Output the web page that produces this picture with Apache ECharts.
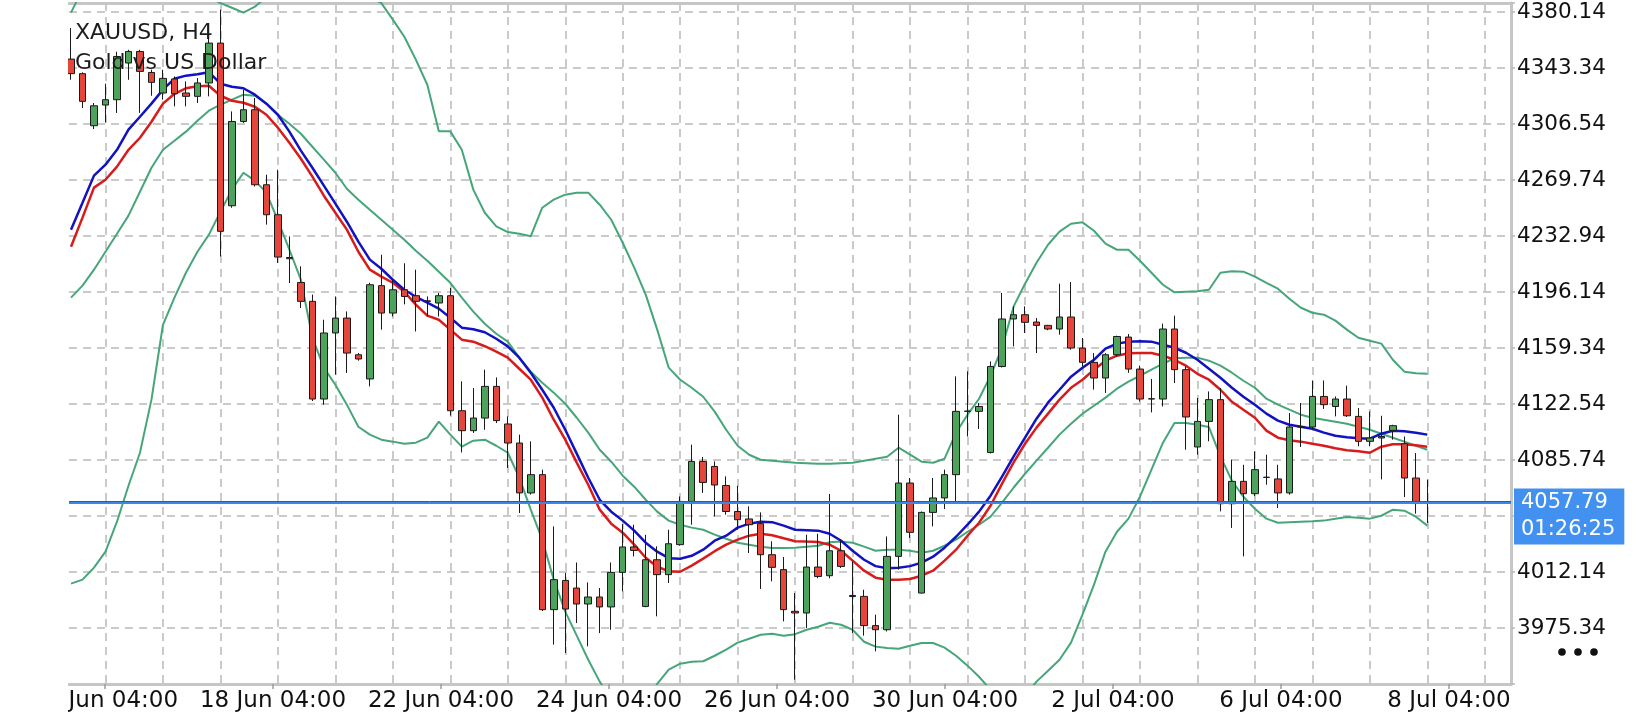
<!DOCTYPE html>
<html>
<head>
<meta charset="utf-8">
<title>XAUUSD, H4</title>
<script src="https://cdn.jsdelivr.net/npm/echarts@6/dist/echarts.min.js"></script>
<style>
    html, body { margin: 0; padding: 0; background: #fff; }
    #chart { width: 1640px; height: 720px; }
</style>
</head>
<body>
<div id="chart"></div>
<script>
// symbol header and live price box
var symbolName = 'XAUUSD, H4';
var symbolDesc = 'Gold vs US Dollar';
var lastPrice = 4057.79;
var askPrice = 4058.6;
var barTimeLeft = '01:26:25';

// time axis labels (one every ~14.6 bars, as the terminal places them)
var xLabels = ['16 Jun 04:00', '18 Jun 04:00', '22 Jun 04:00', '24 Jun 04:00', '26 Jun 04:00',
    '30 Jun 04:00', '2 Jul 04:00', '6 Jul 04:00', '8 Jul 04:00'];

// price scale
var yMin = 3938.54;
var yMax = 4386.04;
var yStep = 36.8;
var yLabels = ['3975.34', '4012.14', '4085.74', '4122.54', '4159.34', '4196.14',
    '4232.94', '4269.74', '4306.54', '4343.34', '4380.14'];

// H4 bars, oldest first
var candleOpen = [
    4349.2, 4339.6, 4305.4, 4319.0, 4322.5, 4346.6, 4354.2, 4340.4, 4326.9, 4336.1,
    4326.9, 4324.7, 4333.5, 4359.7, 4252.8, 4308.2, 4315.9, 4266.6, 4246.9, 4218.8,
    4202.4, 4190.0, 4125.8, 4169.2, 4179.0, 4154.9, 4139.0, 4200.3, 4182.3, 4197.6,
    4193.7, 4190.3, 4188.9, 4193.7, 4118.1, 4105.0, 4113.3, 4134.1, 4109.4, 4096.9,
    4064.1, 4076.1, 3987.4, 4006.6, 4001.6, 3991.1, 3995.7, 3989.2, 4011.9, 4028.6,
    3989.5, 4020.2, 4010.4, 4030.1, 4058.5, 4084.8, 4081.5, 4069.0, 4051.9, 4047.0,
    4043.9, 4023.5, 4013.7, 3986.3, 3985.2, 4015.4, 4009.7, 4026.1, 3996.7, 3996.1,
    3976.9, 3974.2, 4022.4, 4070.6, 3998.3, 4051.3, 4060.8, 4076.1, 4117.9, 4117.7,
    4090.7, 4147.2, 4178.4, 4181.2, 4176.4, 4174.2, 4171.8, 4179.7, 4159.3, 4149.9,
    4139.6, 4154.9, 4166.5, 4145.5, 4126.0, 4125.8, 4171.8, 4145.1, 4094.3, 4111.1,
    4125.4, 4057.0, 4071.7, 4063.6, 4074.4, 4073.3, 4064.1, 4107.4, 4107.4, 4127.5,
    4120.9, 4125.8, 4114.4, 4098.0, 4100.2, 4105.2, 4096.4, 4073.9, 4058.4
];
var candleClose = [
    4339.6, 4321.4, 4318.5, 4322.5, 4350.9, 4354.2, 4341.1, 4333.9, 4336.5, 4326.4,
    4324.7, 4333.5, 4359.7, 4236.0, 4308.2, 4315.9, 4266.6, 4246.9, 4219.1, 4218.0,
    4190.0, 4125.8, 4169.2, 4179.0, 4156.0, 4152.1, 4200.9, 4182.3, 4197.6, 4193.2,
    4190.0, 4190.0, 4193.7, 4118.1, 4105.0, 4113.3, 4134.1, 4111.6, 4096.9, 4064.1,
    4076.1, 3987.4, 4007.1, 3987.8, 3991.1, 3995.7, 3989.2, 4011.9, 4028.6, 4026.3,
    4020.2, 4010.4, 4030.7, 4058.5, 4084.8, 4071.0, 4069.3, 4051.9, 4046.5, 4043.2,
    4023.5, 4015.2, 3987.4, 3985.2, 4015.4, 4009.2, 4026.1, 4015.8, 3996.0, 3976.9,
    3974.2, 4022.4, 4070.6, 4038.2, 4051.3, 4060.8, 4076.1, 4117.7, 4117.7, 4120.9,
    4147.2, 4178.4, 4181.2, 4176.2, 4174.2, 4171.8, 4179.7, 4159.3, 4149.9, 4139.6,
    4154.9, 4166.9, 4145.5, 4125.8, 4125.8, 4171.8, 4145.1, 4114.0, 4111.1, 4125.4,
    4057.0, 4071.7, 4063.6, 4079.4, 4074.3, 4064.1, 4107.4, 4107.8, 4127.5, 4122.1,
    4125.8, 4114.8, 4098.0, 4100.2, 4101.2, 4108.3, 4073.9, 4058.5, 4057.79
];
var candleLow = [
    4335.6, 4317.0, 4303.2, 4307.6, 4313.8, 4335.6, 4313.8, 4325.1, 4322.5, 4318.1,
    4318.1, 4320.3, 4324.7, 4219.5, 4251.5, 4307.2, 4265.5, 4240.4, 4215.2, 4202.0,
    4185.6, 4124.5, 4122.1, 4141.8, 4142.9, 4151.0, 4134.1, 4171.4, 4180.1, 4188.0,
    4170.2, 4180.1, 4180.0, 4114.9, 4090.7, 4103.5, 4105.6, 4110.0, 4080.5, 4050.9,
    4063.0, 3986.5, 3964.4, 3958.9, 3978.6, 3963.3, 3972.0, 3974.2, 3999.4, 4022.4,
    3989.0, 3983.0, 4004.9, 4029.4, 4043.2, 4064.1, 4048.7, 4049.8, 4039.9, 4024.6,
    4001.0, 4006.0, 3979.7, 3941.4, 3975.3, 4008.0, 4008.0, 4014.8, 3972.0, 3970.3,
    3960.0, 3973.1, 4013.7, 4034.5, 3998.0, 4042.1, 4053.5, 4058.5, 4101.2, 4106.1,
    4090.0, 4146.5, 4160.4, 4169.2, 4156.0, 4171.0, 4168.1, 4158.2, 4147.2, 4132.0,
    4129.8, 4153.8, 4143.0, 4124.2, 4117.0, 4120.9, 4136.3, 4092.5, 4089.2, 4098.0,
    4052.0, 4041.1, 4022.4, 4062.0, 4069.5, 4054.2, 4063.0, 4094.3, 4106.0, 4119.3,
    4114.4, 4114.0, 4094.7, 4094.7, 4073.0, 4099.1, 4061.4, 4050.5, 4044.3
];
var candleHigh = [
    4369.6, 4340.5, 4320.3, 4333.0, 4354.0, 4355.3, 4355.3, 4342.2, 4342.2, 4337.8,
    4334.5, 4336.7, 4366.3, 4381.6, 4314.8, 4329.1, 4323.6, 4273.2, 4276.5, 4232.7,
    4213.0, 4194.4, 4177.9, 4193.2, 4183.4, 4156.0, 4202.2, 4220.6, 4204.2, 4215.0,
    4210.8, 4193.2, 4195.5, 4198.8, 4137.4, 4133.0, 4145.1, 4140.0, 4114.4, 4102.4,
    4098.0, 4079.4, 4042.1, 4011.5, 4018.4, 4005.3, 4001.6, 4018.4, 4043.7, 4043.2,
    4036.6, 4029.0, 4039.9, 4061.8, 4095.8, 4087.7, 4084.8, 4075.0, 4068.8, 4055.3,
    4051.3, 4032.3, 4022.0, 3998.3, 4036.6, 4037.3, 4063.4, 4033.8, 4019.1, 4000.5,
    3984.1, 4035.5, 4115.5, 4073.9, 4051.9, 4073.9, 4079.4, 4140.7, 4144.0, 4123.2,
    4150.5, 4195.5, 4186.7, 4186.7, 4179.0, 4174.5, 4201.6, 4202.7, 4165.9, 4156.0,
    4156.0, 4167.4, 4168.5, 4147.7, 4139.0, 4175.3, 4180.6, 4147.2, 4126.5, 4130.8,
    4133.0, 4085.9, 4082.6, 4091.4, 4089.2, 4082.6, 4116.6, 4123.2, 4138.0, 4138.0,
    4127.5, 4134.6, 4119.9, 4117.7, 4114.8, 4108.9, 4101.2, 4090.3, 4072.8
];

// moving averages (blue / red)
var maBlue = [
    4237.1, 4254.8, 4272.6, 4279.8, 4289.6, 4302.8, 4311.3, 4319.9, 4329.1, 4336.3,
    4338.3, 4339.2, 4340.6, 4333.0, 4331.0, 4330.0, 4325.8, 4319.9, 4312.6, 4301.5,
    4289.0, 4277.8, 4266.0, 4254.2, 4242.3, 4229.2, 4217.4, 4211.4, 4204.2, 4197.6,
    4193.0, 4189.1, 4185.2, 4179.2, 4172.7, 4171.7, 4169.7, 4165.4, 4160.4, 4153.0,
    4143.1, 4131.9, 4120.1, 4105.6, 4089.9, 4074.1, 4059.6, 4051.8, 4045.9, 4039.3,
    4031.4, 4025.5, 4021.2, 4020.9, 4022.8, 4026.8, 4032.7, 4036.0, 4041.3, 4043.9,
    4045.2, 4044.9, 4042.6, 4039.9, 4039.6, 4039.3, 4037.3, 4032.7, 4026.1, 4020.2,
    4016.0, 4014.6, 4015.0, 4016.0, 4018.3, 4022.2, 4028.1, 4035.3, 4043.2, 4051.8,
    4062.3, 4074.8, 4087.9, 4100.4, 4112.9, 4123.4, 4131.9, 4140.5, 4146.4, 4151.6,
    4158.9, 4162.2, 4163.5, 4163.8, 4163.5, 4161.5, 4159.5, 4156.2, 4151.6, 4145.7,
    4139.8, 4133.2, 4127.3, 4122.1, 4116.2, 4111.6, 4108.9, 4107.6, 4106.3, 4103.7,
    4101.7, 4100.7, 4100.1, 4099.7, 4103.0, 4105.0, 4104.7, 4103.7, 4102.4
];
var maRed = [
    4225.9, 4245.0, 4264.7, 4269.9, 4278.5, 4289.6, 4297.5, 4308.0, 4319.9, 4326.4,
    4330.0, 4331.4, 4331.7, 4325.1, 4321.8, 4320.5, 4317.9, 4312.6, 4304.1, 4294.2,
    4283.7, 4271.9, 4259.4, 4248.2, 4237.1, 4222.6, 4210.8, 4206.2, 4202.2, 4196.3,
    4187.8, 4180.6, 4177.9, 4171.4, 4164.8, 4163.5, 4160.5, 4156.9, 4153.0, 4145.7,
    4138.5, 4126.7, 4112.2, 4099.1, 4084.0, 4069.5, 4053.1, 4043.9, 4038.0, 4030.1,
    4021.5, 4015.6, 4012.7, 4012.3, 4016.3, 4020.9, 4025.8, 4030.1, 4033.4, 4036.0,
    4037.3, 4036.3, 4034.3, 4032.4, 4032.1, 4031.9, 4030.1, 4026.1, 4019.6, 4013.0,
    4008.4, 4007.1, 4007.1, 4007.5, 4009.7, 4013.0, 4019.6, 4026.8, 4036.0, 4044.5,
    4055.7, 4070.2, 4084.0, 4096.4, 4107.0, 4116.2, 4125.4, 4133.2, 4138.5, 4145.1,
    4151.0, 4154.3, 4155.9, 4156.0, 4156.0, 4154.3, 4151.6, 4147.7, 4142.4, 4138.5,
    4131.9, 4124.0, 4118.8, 4113.5, 4105.0, 4100.4, 4098.7, 4097.8, 4096.4, 4095.1,
    4093.5, 4092.2, 4091.5, 4090.5, 4094.5, 4096.1, 4096.1, 4095.5, 4094.5
];

// Bollinger bands (green)
var bbUpper = [
    4379.7, 4395.0, 4405.0, 4412.0, 4418.0, 4422.0, 4424.0, 4423.0, 4418.0, 4410.0,
    4402.0, 4395.0, 4390.0, 4386.0, 4382.9, 4379.7, 4383.6, 4390.0, 4397.0, 4402.0,
    4406.0, 4408.0, 4408.0, 4405.0, 4400.0, 4395.0, 4390.0, 4386.0, 4375.1, 4363.9,
    4348.8, 4332.3, 4301.7, 4301.7, 4289.6, 4263.4, 4248.2, 4239.2, 4235.5, 4234.4,
    4232.8, 4251.5, 4256.8, 4260.1, 4261.4, 4261.4, 4253.5, 4243.6, 4228.5, 4212.1,
    4194.4, 4171.4, 4146.4, 4138.5, 4133.2, 4127.3, 4117.5, 4105.6, 4095.1, 4089.2,
    4085.9, 4085.3, 4084.6, 4083.9, 4083.6, 4083.3, 4083.3, 4083.6, 4083.9, 4085.3,
    4086.6, 4087.9, 4093.8, 4089.2, 4084.6, 4083.9, 4086.6, 4103.7, 4115.5, 4126.0,
    4141.1, 4159.5, 4186.5, 4201.6, 4215.4, 4227.2, 4235.8, 4241.0, 4241.9, 4236.4,
    4227.9, 4223.9, 4223.9, 4216.7, 4208.8, 4200.9, 4195.9, 4196.3, 4196.6, 4197.6,
    4208.8, 4209.7, 4209.5, 4206.2, 4202.2, 4198.3, 4191.7, 4185.8, 4182.5, 4181.2,
    4177.3, 4171.4, 4166.1, 4164.1, 4162.2, 4151.6, 4143.8, 4142.8, 4142.4
];
var bbMiddle = [
    4192.4, 4200.3, 4210.8, 4222.6, 4234.4, 4246.3, 4262.0, 4277.8, 4289.6, 4295.5,
    4301.5, 4308.7, 4315.3, 4319.2, 4322.5, 4325.8, 4325.1, 4319.9, 4312.6, 4306.7,
    4300.1, 4291.6, 4283.1, 4274.5, 4264.0, 4256.8, 4250.2, 4243.6, 4237.1, 4230.5,
    4223.3, 4216.7, 4209.5, 4202.2, 4192.4, 4183.2, 4175.3, 4168.7, 4163.5, 4153.0,
    4143.8, 4136.5, 4130.0, 4122.7, 4113.5, 4103.7, 4092.5, 4084.6, 4075.4, 4068.2,
    4059.6, 4051.8, 4045.9, 4043.2, 4041.3, 4039.9, 4036.7, 4034.0, 4031.4, 4030.1,
    4028.8, 4027.9, 4027.9, 4028.1, 4028.8, 4029.4, 4031.7, 4032.1, 4031.4, 4028.8,
    4026.1, 4026.8, 4026.8, 4026.1, 4024.8, 4026.1, 4029.4, 4033.4, 4038.6, 4043.2,
    4048.5, 4057.7, 4067.5, 4076.7, 4085.3, 4093.8, 4102.4, 4109.6, 4116.2, 4121.4,
    4126.7, 4132.6, 4137.2, 4141.1, 4145.1, 4149.0, 4152.6, 4153.0, 4153.0, 4151.0,
    4147.7, 4143.1, 4137.8, 4133.2, 4126.0, 4122.1, 4118.8, 4115.5, 4113.5, 4112.2,
    4110.9, 4109.6, 4107.6, 4105.6, 4103.0, 4100.4, 4097.8, 4095.1, 4092.5
];
var bbLower = [
    4004.5, 4007.1, 4015.0, 4025.5, 4045.2, 4068.8, 4090.5, 4125.4, 4174.6, 4192.4,
    4208.8, 4222.6, 4233.8, 4248.9, 4263.4, 4274.5, 4269.3, 4261.4, 4243.0, 4223.9,
    4204.2, 4166.1, 4146.4, 4135.2, 4122.1, 4107.6, 4102.4, 4099.1, 4097.8, 4096.4,
    4097.1, 4100.4, 4110.9, 4102.4, 4094.5, 4098.4, 4099.1, 4095.1, 4090.5, 4074.1,
    4053.1, 4033.4, 4007.1, 3986.1, 3970.3, 3954.5, 3940.1, 3928.2, 3921.7, 3920.3,
    3924.9, 3938.7, 3948.0, 3951.9, 3953.2, 3953.5, 3957.1, 3961.1, 3965.7, 3968.3,
    3970.9, 3971.6, 3970.3, 3971.3, 3974.2, 3976.2, 3978.8, 3977.5, 3974.2, 3966.3,
    3963.1, 3962.2, 3961.7, 3963.7, 3965.5, 3965.5, 3962.4, 3957.1, 3950.6, 3943.3,
    3934.8, 3928.2, 3924.9, 3930.9, 3940.1, 3947.3, 3954.5, 3965.7, 3984.1, 4003.8,
    4025.5, 4038.6, 4047.2, 4061.6, 4079.4, 4097.1, 4110.0, 4110.0, 4108.9, 4107.4,
    4088.1, 4072.1, 4061.6, 4053.7, 4047.2, 4044.5, 4044.9, 4045.2, 4045.5, 4045.9,
    4047.2, 4048.3, 4047.8, 4047.2, 4049.1, 4053.1, 4052.4, 4048.5, 4042.6
];

var fontName = 'DejaVu Sans';
var frameGray = '#c6c6c6';
var gridGray = '#b9b9b9';
var gridDash = [8, 6];

/**
 * pair each value with its bar index
 *
 * @param  {number[]} values line values
 * @return {Array} [index, value] pairs
 */
function toPoints(values) {
    return values.map(function (v, i) {
        return [i, v];
    });
}

/**
 * price label only where the terminal prints one
 *
 * @param  {number} value tick value
 * @return {string} label text
 */
function priceLabel(value) {
    for (var k = 0; k < yLabels.length; k++) {
        if (Math.abs(parseFloat(yLabels[k]) - value) < 0.005) {
            return yLabels[k];
        }
    }
    return '';
}

function indicatorLine(name, values, color, width) {
    return {
        name: name,
        type: 'line',
        xAxisIndex: 0,
        yAxisIndex: 0,
        data: toPoints(values),
        symbol: 'none',
        clip: true,
        silent: true,
        lineStyle: { color: color, width: width },
        z: 2
    };
}

var candles = candleOpen.map(function (o, i) {
    return [i, o, candleClose[i], candleLow[i], candleHigh[i]];
});

var chart = echarts.init(document.getElementById('chart'));

chart.setOption({
    animation: false,
    backgroundColor: '#fff',
    title: {
        text: symbolName + '\n' + symbolDesc,
        left: 75,
        top: 18,
        padding: 0,
        textStyle: {
            fontFamily: fontName,
            fontSize: 22,
            fontWeight: 'normal',
            color: '#1c1c1c',
            lineHeight: 30
        }
    },
    grid: [
        // price area
        { left: 69, right: 129, top: 3, bottom: 36, outerBoundsMode: 'none' },
        // vertical grid lines every 5 bars
        { left: 105.5, right: 155.2, top: 3, bottom: 36, outerBoundsMode: 'none' },
        // time labels
        { left: 105, right: 191, top: 3, bottom: 36, outerBoundsMode: 'none' }
    ],
    xAxis: [
        {
            type: 'value',
            gridIndex: 0,
            position: 'bottom',
            min: -0.174,
            max: 125.28,
            axisLine: { show: true, onZero: false, lineStyle: { color: frameGray, width: 3 } },
            axisTick: { show: false },
            axisLabel: { show: false },
            splitLine: { show: false }
        },
        {
            type: 'value',
            gridIndex: 1,
            min: 0,
            max: 24,
            interval: 1,
            axisLine: { show: false },
            axisTick: { show: false },
            axisLabel: { show: false },
            splitLine: { show: true, lineStyle: { color: gridGray, width: 1.5, type: gridDash } }
        },
        {
            type: 'value',
            gridIndex: 2,
            position: 'bottom',
            min: 0,
            max: 8,
            interval: 1,
            axisLine: { show: false },
            axisTick: { show: true, length: 5, lineStyle: { color: '#9c9c9c', width: 1.5 } },
            axisLabel: {
                margin: 6,
                fontFamily: fontName,
                fontSize: 23,
                color: '#111',
                formatter: function (v) {
                    return xLabels[Math.round(v)] || '';
                }
            },
            splitLine: { show: false }
        },
        {
            type: 'value',
            gridIndex: 0,
            position: 'top',
            min: 0,
            max: 1,
            axisLine: { show: true, onZero: false, lineStyle: { color: frameGray, width: 3 } },
            axisTick: { show: false },
            axisLabel: { show: false },
            splitLine: { show: false }
        }
    ],
    yAxis: [
        {
            type: 'value',
            gridIndex: 0,
            position: 'right',
            min: yMin,
            max: yMax,
            interval: yStep,
            axisLine: { show: true, onZero: false, lineStyle: { color: frameGray, width: 3 } },
            axisTick: { show: true, length: 4, lineStyle: { color: gridGray, width: 1.5 } },
            axisLabel: {
                margin: 6,
                fontFamily: fontName,
                fontSize: 21.5,
                color: '#111',
                formatter: priceLabel
            },
            splitLine: { show: true, lineStyle: { color: gridGray, width: 1.5, type: gridDash } }
        },
        { type: 'value', gridIndex: 1, min: 0, max: 1, show: false },
        { type: 'value', gridIndex: 2, min: 0, max: 1, show: false }
    ],
    series: [
        indicatorLine('BB upper', bbUpper, '#47a679', 2),
        indicatorLine('BB middle', bbMiddle, '#47a679', 2),
        indicatorLine('BB lower', bbLower, '#47a679', 2),
        indicatorLine('MA red', maRed, '#d81c1c', 2.5),
        indicatorLine('MA blue', maBlue, '#1212c0', 2.5),
        {
            name: symbolName,
            type: 'candlestick',
            xAxisIndex: 0,
            yAxisIndex: 0,
            data: candles,
            barWidth: 7,
            clip: true,
            silent: true,
            z: 3,
            itemStyle: {
                color: '#4ea35c',
                color0: '#e5463b',
                borderColor: '#1a1a1a',
                borderColor0: '#1a1a1a',
                borderWidth: 1
            },
            markLine: {
                silent: true,
                animation: false,
                symbol: ['none', 'none'],
                z: 6,
                data: [
                    {
                        yAxis: lastPrice,
                        lineStyle: { color: '#3d86e6', width: 2, type: 'solid' },
                        label: {
                            show: true,
                            position: 'end',
                            distance: 3,
                            offset: [0, 14],
                            formatter: lastPrice.toFixed(2) + '\n' + barTimeLeft,
                            color: '#fff',
                            backgroundColor: '#4291f0',
                            fontFamily: fontName,
                            fontSize: 21,
                            lineHeight: 27,
                            padding: [1, 9, 1, 7]
                        }
                    },
                    {
                        yAxis: askPrice,
                        lineStyle: { color: '#d11f2a', width: 1, type: 'solid' },
                        label: { show: false }
                    }
                ]
            }
        }
    ],
    graphic: [
        // the terminal window is cut at the left edge
        {
            type: 'rect',
            shape: { x: 0, y: 0, width: 68, height: 720 },
            style: { fill: '#fff' },
            z: 100
        },
        // menu dots under the price scale
        { type: 'circle', shape: { cx: 1562, cy: 652, r: 3.8 }, style: { fill: '#111' }, z: 100 },
        { type: 'circle', shape: { cx: 1578, cy: 652, r: 3.8 }, style: { fill: '#111' }, z: 100 },
        { type: 'circle', shape: { cx: 1594, cy: 652, r: 3.8 }, style: { fill: '#111' }, z: 100 }
    ]
});
</script>
</body>
</html>
